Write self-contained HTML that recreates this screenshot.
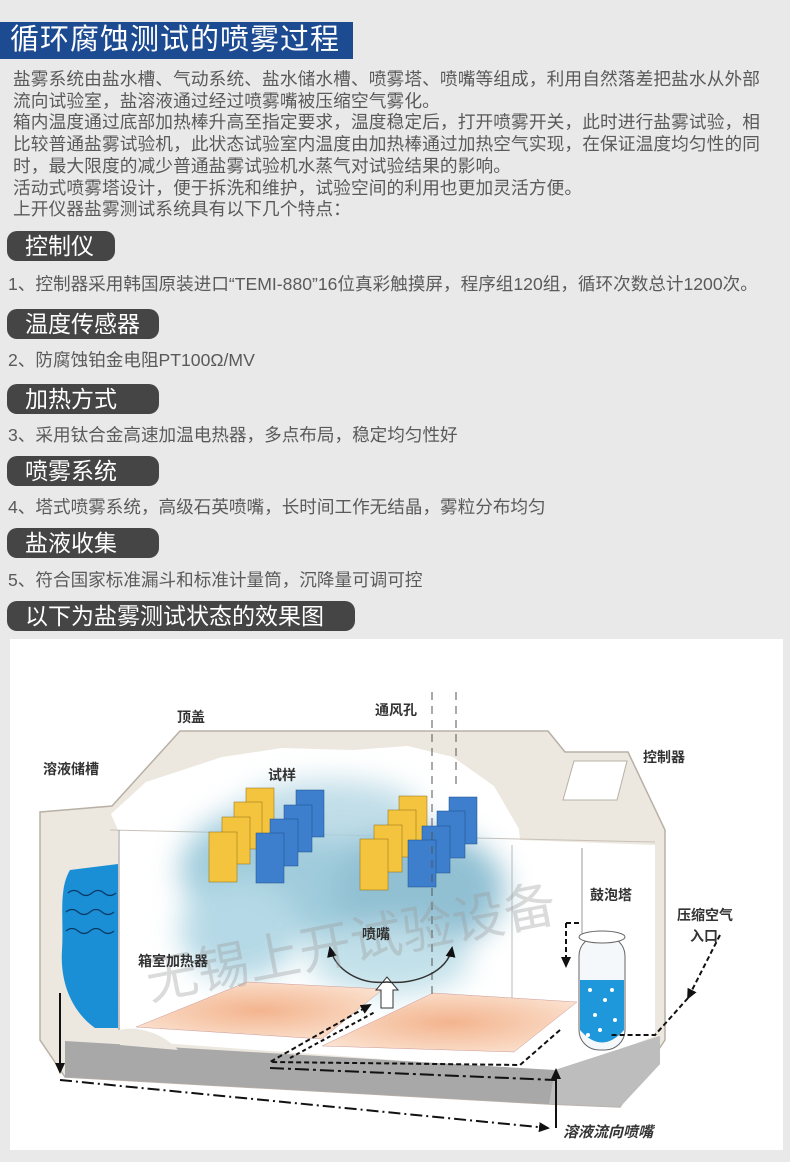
<!DOCTYPE html>
<html><head><meta charset="utf-8">
<style>
*{margin:0;padding:0;box-sizing:border-box}
body{width:790px;height:1162px;background:#e9e9e9;position:relative;overflow:hidden;font-family:"Liberation Sans","Noto Sans CJK SC",sans-serif;color:#555}
.title{position:absolute;left:0;top:22px;width:353px;height:37px;background:#1d4b92;color:#fff;font-size:29px;line-height:37px;padding-left:10px;letter-spacing:1px;white-space:nowrap}
.p{position:absolute;left:13px;font-size:17.7px;line-height:21.7px;white-space:nowrap;color:#5a5a5a;letter-spacing:0.1px}
.pill{position:absolute;left:7px;height:30px;background:#454545;border-radius:10px;color:#fff;font-size:23px;line-height:30px;padding-left:18px;white-space:nowrap}
.it{position:absolute;left:8px;font-size:17.6px;white-space:nowrap;color:#5a5a5a}
svg text{font-family:"Liberation Sans","Noto Sans CJK SC",sans-serif;font-weight:bold;fill:#333}
</style></head><body>
<div class="title">循环腐蚀测试的喷雾过程</div>
<div class="p" style="top:69px">盐雾系统由盐水槽、气动系统、盐水储水槽、喷雾塔、喷嘴等组成，利用自然落差把盐水从外部<br>流向试验室，盐溶液通过经过喷雾嘴被压缩空气雾化。<br>箱内温度通过底部加热棒升高至指定要求，温度稳定后，打开喷雾开关，此时进行盐雾试验，相<br>比较普通盐雾试验机，此状态试验室内温度由加热棒通过加热空气实现，在保证温度均匀性的同<br>时，最大限度的减少普通盐雾试验机水蒸气对试验结果的影响。<br>活动式喷雾塔设计，便于拆洗和维护，试验空间的利用也更加灵活方便。<br>上开仪器盐雾测试系统具有以下几个特点：</div>
<div class="pill" style="top:231px;width:108px">控制仪</div>
<div class="it" style="top:271px">1、控制器采用韩国原装进口“TEMI-880”16位真彩触摸屏，程序组120组，循环次数总计1200次。</div>
<div class="pill" style="top:309px;width:152px">温度传感器</div>
<div class="it" style="top:347px">2、防腐蚀铂金电阻PT100Ω/MV</div>
<div class="pill" style="top:384px;width:152px">加热方式</div>
<div class="it" style="top:422px">3、采用钛合金高速加温电热器，多点布局，稳定均匀性好</div>
<div class="pill" style="top:456px;width:152px">喷雾系统</div>
<div class="it" style="top:494px">4、塔式喷雾系统，高级石英喷嘴，长时间工作无结晶，雾粒分布均匀</div>
<div class="pill" style="top:528px;width:152px">盐液收集</div>
<div class="it" style="top:567px">5、符合国家标准漏斗和标准计量筒，沉降量可调可控</div>
<div class="pill" style="top:601px;width:348px">以下为盐雾测试状态的效果图</div>

<svg style="position:absolute;left:0;top:0" width="790" height="1162">
<defs>
<filter id="bl" x="-30%" y="-30%" width="160%" height="160%"><feGaussianBlur stdDeviation="14"/></filter>
<radialGradient id="hp" cx="50%" cy="50%" r="60%"><stop offset="0" stop-color="#f3b48e"/><stop offset="1" stop-color="#fbe2d0"/></radialGradient>
<marker id="ah" markerUnits="userSpaceOnUse" markerWidth="12" markerHeight="12" refX="9" refY="6" orient="auto"><path d="M0,1 L11,6 L0,11 z" fill="#111"/></marker>
</defs>
<rect x="10" y="639" width="773" height="511" fill="#fff"/>
<polygon points="40,812 112,806 180,731 548,731 565,752 628,752 665,830 665,1040 620,1107 549,1104 65,1077 40,1040" fill="#ece7df" stroke="#b8b0a6" stroke-width="1.5"/>
<polygon points="111,814 146,782 222,757 282,748 353,750 408,746 453,757 494,786 519,829 520,840 655,845 655,1036 560,1072 120,1040 118,830" fill="#fff"/>
<line x1="110" y1="830" x2="655" y2="842" stroke="#c9c2b8" stroke-width="1"/>
<line x1="119" y1="830" x2="119" y2="1030" stroke="#999" stroke-width="1"/>
<line x1="582" y1="848" x2="582" y2="935" stroke="#999" stroke-width="1"/>
<line x1="512" y1="845" x2="512" y2="1045" stroke="#bbb" stroke-width="1"/>
<polygon points="574,761 627,761 617,800 563,800" fill="#fff" stroke="#b8b0a6"/>
<polygon points="65,1041 555,1070 660,1036 660,1064 620,1107 549,1104 65,1077" fill="#a8a8a8"/>
<polygon points="555,1070 660,1036 660,1064 620,1107 549,1104" fill="#bdbdbd"/>
<g filter="url(#bl)" opacity="0.85">
<ellipse cx="300" cy="870" rx="120" ry="70" fill="#8fc3d6"/>
<ellipse cx="420" cy="890" rx="85" ry="60" fill="#7fb6cc"/>
<ellipse cx="240" cy="930" rx="60" ry="50" fill="#a9d3e2"/>
<ellipse cx="390" cy="960" rx="80" ry="35" fill="#b8dbe6"/>
<ellipse cx="330" cy="810" rx="90" ry="30" fill="#b6d8e4"/>
</g>
<path d="M118,864 L118,1028 L95,1028 C70,1010 60,980 62,950 C64,920 58,890 70,870 Z" fill="#1b8fd6"/>
<path d="M68,893 q6,-5 12,0 t12,0 t12,0 t12,0 M66,912 q6,-5 12,0 t12,0 t12,0 t12,0 M66,931 q6,-5 12,0 t12,0 t12,0 t12,0" stroke="#0a3a66" fill="none" stroke-width="1.3"/>
<path d="M120,1030 C140,1025 165,1035 178,1050 L120,1045Z" fill="#ece7df"/>
<polygon points="136,1027 247,982 383,989 322,1039" fill="url(#hp)" stroke="#c99" stroke-width=".5"/>
<polygon points="433,993 577,1002 514,1052 322,1046" fill="url(#hp)" stroke="#c99" stroke-width=".5"/>
<g stroke="#8a6a10" stroke-width=".5">
<rect x="246" y="788" width="28" height="47" fill="#f5c43e"/>
<rect x="234" y="802" width="28" height="47" fill="#f5c43e"/>
<rect x="222" y="817" width="28" height="47" fill="#f5c43e"/>
<rect x="209" y="832" width="28" height="50" fill="#f5c43e"/>
</g>
<g stroke="#1f4f8a" stroke-width=".5">
<rect x="296" y="790" width="28" height="47" fill="#3d7fcc"/>
<rect x="284" y="805" width="28" height="47" fill="#3d7fcc"/>
<rect x="270" y="819" width="28" height="47" fill="#3d7fcc"/>
<rect x="256" y="833" width="28" height="50" fill="#3d7fcc"/>
</g>
<g stroke="#8a6a10" stroke-width=".5">
<rect x="399" y="796" width="28" height="47" fill="#f5c43e"/>
<rect x="388" y="810" width="28" height="47" fill="#f5c43e"/>
<rect x="374" y="825" width="28" height="47" fill="#f5c43e"/>
<rect x="360" y="839" width="28" height="51" fill="#f5c43e"/>
</g>
<g stroke="#1f4f8a" stroke-width=".5">
<rect x="449" y="797" width="28" height="47" fill="#3d7fcc"/>
<rect x="437" y="811" width="28" height="47" fill="#3d7fcc"/>
<rect x="422" y="826" width="28" height="47" fill="#3d7fcc"/>
<rect x="408" y="840" width="28" height="47" fill="#3d7fcc"/>
</g>
<line x1="432" y1="692" x2="432" y2="1000" stroke="#555" stroke-dasharray="8,6"/>
<line x1="456" y1="692" x2="456" y2="790" stroke="#555" stroke-dasharray="8,6"/>
<path d="M381,1008 L381,990 L376,990 L387,977 L398,990 L393,990 L393,1008 Z" fill="#fff" stroke="#333"/>
<path d="M387,982 C360,985 335,970 330,948" stroke="#333" stroke-width="1.5" fill="none" marker-end="url(#ah)"/>
<path d="M387,982 C415,985 448,972 452,948" stroke="#333" stroke-width="1.5" fill="none" marker-end="url(#ah)"/>
<rect x="579" y="936" width="46" height="114" rx="20" fill="#f4f8fb" stroke="#666"/>
<path d="M580,980 L624,980 L624,1030 Q602,1055 580,1030Z" fill="#1f98db"/>
<ellipse cx="602" cy="937" rx="23" ry="6" fill="#fff" stroke="#666"/>
<g fill="#fff"><circle cx="590" cy="990" r="2"/><circle cx="605" cy="1000" r="2"/><circle cx="595" cy="1015" r="2"/><circle cx="612" cy="990" r="2"/><circle cx="600" cy="1030" r="2"/><circle cx="615" cy="1020" r="2"/><circle cx="588" cy="1035" r="2"/></g>
<g stroke="#111" stroke-width="2" fill="none">
<path d="M566,923 L566,966" stroke-dasharray="5,3" marker-end="url(#ah)"/>
<path d="M566,923 L580,923" stroke-dasharray="5,3"/>
<path d="M720,935 L688,998" stroke-dasharray="5,3" marker-end="url(#ah)"/>
<path d="M688,998 L655,1035 L610,1035" stroke-dasharray="5,3"/>
<path d="M560,1030 L520,1065 L270,1062 L370,1005" stroke-dasharray="5,3" marker-end="url(#ah)"/>
<path d="M290,1058 L375,1012" stroke-dasharray="4,3"/>
<path d="M60,993 L60,1072" marker-end="url(#ah)"/>
<path d="M60,1080 L548,1128" stroke-dasharray="12,4,2,4" marker-end="url(#ah)"/>
<path d="M556,1128 L556,1070" marker-end="url(#ah)"/>
<path d="M270,1068 L555,1080" stroke-dasharray="14,4,3,4"/>
</g>
<text x="150" y="1000" transform="rotate(-11 150 1000)" font-size="52" style="font-weight:normal;fill:#999;opacity:.35">无锡上开试验设备</text>
<text x="177" y="722" font-size="14">顶盖</text>
<text x="375" y="715" font-size="14">通风孔</text>
<text x="643" y="762" font-size="14">控制器</text>
<text x="43" y="774" font-size="14">溶液储槽</text>
<text x="268" y="780" font-size="14">试样</text>
<text x="590" y="900" font-size="14">鼓泡塔</text>
<text x="677" y="920" font-size="14">压缩空气</text>
<text x="690" y="941" font-size="14">入口</text>
<text x="362" y="939" font-size="14">喷嘴</text>
<text x="138" y="966" font-size="14">箱室加热器</text>
<text x="563" y="1137" font-size="15" font-style="italic">溶液流向喷嘴</text>
</svg>
</body></html>
